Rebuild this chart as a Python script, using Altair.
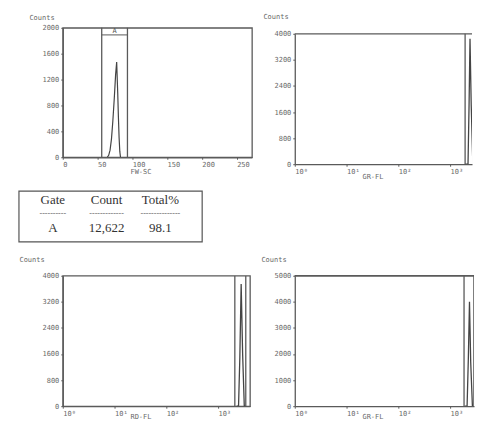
import altair as alt
import pandas as pd

# ---------------- data ----------------
# Panel 1: forward scatter (linear), gate A
fw_channel = [64, 66, 68, 70, 72, 74, 76, 77.5, 79, 80, 81, 82, 83]
fw_counts = [0, 30, 110, 280, 560, 900, 1280, 1470, 1000, 620, 300, 90, 0]
fw_gate = [56, 93]
fw_gate_label = "A"
fw_ticks = [0, 50, 100, 150, 200, 250]
fw_yticks = [0, 400, 800, 1200, 1600, 2000]

# Panel 2: GR-FL (top right), log axis
gr1_values = [1950, 2220, 2330, 2425, 2560, 2750]
gr1_counts = [0, 0, 1900, 3850, 1800, 0]
gr1_gate = [1950]
gr1_yticks = [0, 800, 1600, 2400, 3200, 4000]

# Panel 3: RD-FL, log axis
rd_values = [2300, 2500, 2650, 2810, 3000, 3230, 3400]
rd_counts = [0, 0, 1500, 3750, 1600, 0, 0]
rd_gate = [2120, 3450]
rd_yticks = [0, 800, 1600, 2400, 3200, 4000]

# Panel 4: GR-FL (bottom right), log axis
gr2_values = [1900, 2130, 2250, 2370, 2500, 2700]
gr2_counts = [0, 0, 1800, 4000, 1700, 0]
gr2_gate = [1860, 2880]
gr2_yticks = [0, 1000, 2000, 3000, 4000, 5000]

log_ticks = [1, 10, 100, 1000]
log_labels = ["10\u2070", "10\u00b9", "10\u00b2", "10\u00b3"]

# Table
tbl_headers = ["Gate", "Count", "Total%"]
tbl_values = ["A", "12,622", "98.1"]
tbl_dashes = ["-" * 10, "-" * 13, "-" * 15]
tbl_rows = ["head", "dash", "val"]

# ---------------- styles ----------------
MONO = "DejaVu Sans Mono"
SERIF = "Liberation Serif"
TXT = "#6a6a6a"
LINE = "#5a5a5a"
FS = 7


def y_axis(values, tx, ty, title="Counts"):
    return alt.Axis(
        values=values, title=title, titleAngle=0, titleX=tx, titleY=ty,
        titleAlign="left", titleBaseline="middle", titleFont=MONO,
        titleFontSize=FS, titleFontWeight="normal", titleColor=TXT,
        labelFont=MONO, labelFontSize=FS, labelColor=TXT, labelPadding=2,
        tickSize=2, tickColor=LINE, domainColor=LINE, domainWidth=1.3,
        grid=False, labelOverlap=False, format="d",
    )


def x_axis(values, title, ty, label_expr=None):
    kw = dict(
        values=values, title=title, titleX=78, titleY=ty, titleAlign="center",
        titleBaseline="middle", titleFont=MONO, titleFontSize=FS,
        titleFontWeight="normal", titleColor=TXT, labelFont=MONO,
        labelFontSize=FS, labelColor=TXT, labelAlign="left",
        labelBaseline="top", labelPadding=1, labelFlush=False,
        labelOverlap=False, tickSize=2, tickColor=LINE, domainColor=LINE,
        domainWidth=1.3, grid=False, format="d",
    )
    if label_expr:
        kw["labelExpr"] = label_expr
    return alt.Axis(**kw)


log_expr = "{" + ",".join(f"'{v}':'{l}'" for v, l in zip(log_ticks, log_labels)) + "}[datum.value]"

# ---------------- panel 1 ----------------
df1 = pd.DataFrame({"x": fw_channel, "y": fw_counts})
xs1 = alt.Scale(domain=[0, 272], nice=False)
ys1 = alt.Scale(domain=[0, 2000], nice=False)
xa1 = x_axis(fw_ticks, "FW-SC", 14)
ya1 = y_axis(fw_yticks, -34, -10)
hist1 = alt.Chart(df1).mark_line(color="#444", strokeWidth=1.2, clip=True).encode(
    x=alt.X("x:Q", scale=xs1, axis=xa1),
    y=alt.Y("y:Q", scale=ys1, axis=ya1),
)
gdf1 = pd.DataFrame({"g": fw_gate})
gate1 = alt.Chart(gdf1).mark_rule(color=LINE, strokeWidth=1.3).encode(
    x=alt.X("g:Q", scale=xs1, axis=xa1))
gbox = pd.DataFrame({"lo": [fw_gate[0]], "hi": [fw_gate[1]], "mid": [(fw_gate[0] + fw_gate[1]) / 2],
                     "label": [fw_gate_label]})
gbar = alt.Chart(gbox).mark_rule(color=LINE, strokeWidth=1).encode(
    x=alt.X("lo:Q", scale=xs1, axis=xa1), x2="hi:Q", y=alt.datum(1890, scale=ys1, axis=ya1))
glab = alt.Chart(gbox).mark_text(font=MONO, fontSize=7, color="#555", baseline="middle").encode(
    x=alt.X("mid:Q", scale=xs1, axis=xa1), y=alt.datum(1950, scale=ys1, axis=ya1), text="label:N")
p1 = alt.layer(hist1, gate1, gbar, glab).properties(
    width=190, height=130, view=alt.ViewBackground(stroke=LINE, strokeWidth=1.3))


def log_panel(values, counts, gates, yticks, ymax, width, upper, title, tx, ty, xty,
              frame, height=131, inset=0):
    df = pd.DataFrame({"x": values, "y": counts})
    xs = alt.Scale(type="log", domain=[1, upper], nice=False)
    ys = alt.Scale(domain=[0, ymax], nice=False, range=[height, inset])
    xa = x_axis(log_ticks, title, xty, log_expr)
    ya = y_axis(yticks, tx, ty)
    hist = alt.Chart(df).mark_line(color="#444", strokeWidth=1.3, clip=True).encode(
        x=alt.X("x:Q", scale=xs, axis=xa),
        y=alt.Y("y:Q", scale=ys, axis=ya),
    )
    gdf = pd.DataFrame({"g": gates})
    gate = alt.Chart(gdf).mark_rule(color=LINE, strokeWidth=1.3, clip=True).encode(
        x=alt.X("g:Q", scale=xs, axis=xa),
        y=alt.datum(0, scale=ys, axis=ya), y2=alt.datum(ymax))
    layers = [hist, gate]
    if frame:
        view = alt.ViewBackground(stroke=LINE, strokeWidth=1.3)
    else:
        view = alt.ViewBackground(stroke=None)
        top = alt.Chart(gdf).mark_rule(color=LINE, strokeWidth=1.3).encode(
            y=alt.datum(ymax, scale=ys, axis=ya))
        layers.append(top)
    return alt.layer(*layers).properties(width=width, height=height, view=view)


p2 = log_panel(gr1_values, gr1_counts, gr1_gate, gr1_yticks, 4000, 178, 2651,
               "GR-FL", -32, -11, 12, False, height=137, inset=6)
p3 = log_panel(rd_values, rd_counts, rd_gate, rd_yticks, 4000, 188, 4158,
               "RD-FL", -44, -16, 10, True)
p4 = log_panel(gr2_values, gr2_counts, gr2_gate, gr2_yticks, 5000, 180, 2897,
               "GR-FL", -34, -16, 10, False)

# ---------------- table ----------------
rows = []
for h, d, v in zip(tbl_headers, tbl_dashes, tbl_values):
    rows.append({"col": h, "row": tbl_rows[0], "t": h, "kind": "txt"})
    rows.append({"col": h, "row": tbl_rows[1], "t": d, "kind": "dash"})
    rows.append({"col": h, "row": tbl_rows[2], "t": v, "kind": "txt"})
tdf = pd.DataFrame(rows)
txs = alt.Scale(type="point", domain=tbl_headers, range=[-10, 98], padding=0)
tys = alt.Scale(type="point", domain=tbl_rows, range=[9, 37], padding=0)
t_text = alt.Chart(tdf).transform_filter("datum.kind == 'txt'").mark_text(
    font=SERIF, fontSize=13, color="#333", baseline="middle").encode(
    x=alt.X("col:N", scale=txs, axis=None), y=alt.Y("row:N", scale=tys, axis=None), text="t:N")
t_dash = alt.Chart(tdf).transform_filter("datum.kind == 'dash'").mark_text(
    font=SERIF, fontSize=8, color="#666", baseline="middle").encode(
    x=alt.X("col:N", scale=txs, axis=None), y=alt.Y("row:N", scale=tys, axis=None), text="t:N")
t_box = alt.Chart(pd.DataFrame({"b": [0]})).mark_rect(
    filled=False, stroke="#555", strokeWidth=1.2).encode(
    x=alt.value(-44), x2=alt.value(140), y=alt.value(0), y2=alt.value(51))
table = alt.layer(t_box, t_text, t_dash).properties(
    width=140, height=53, view=alt.ViewBackground(stroke=None))

row1 = alt.hconcat(p1, p2, spacing=10)
row2 = alt.hconcat(p3, p4, spacing=10)
chart = alt.vconcat(row1, table, row2, spacing=11).properties(
    padding={"left": 10, "top": 4, "right": 0, "bottom": 0},
    background="white",
)
chart.save("out.html", embed_options={"renderer": "svg", "actions": False})
